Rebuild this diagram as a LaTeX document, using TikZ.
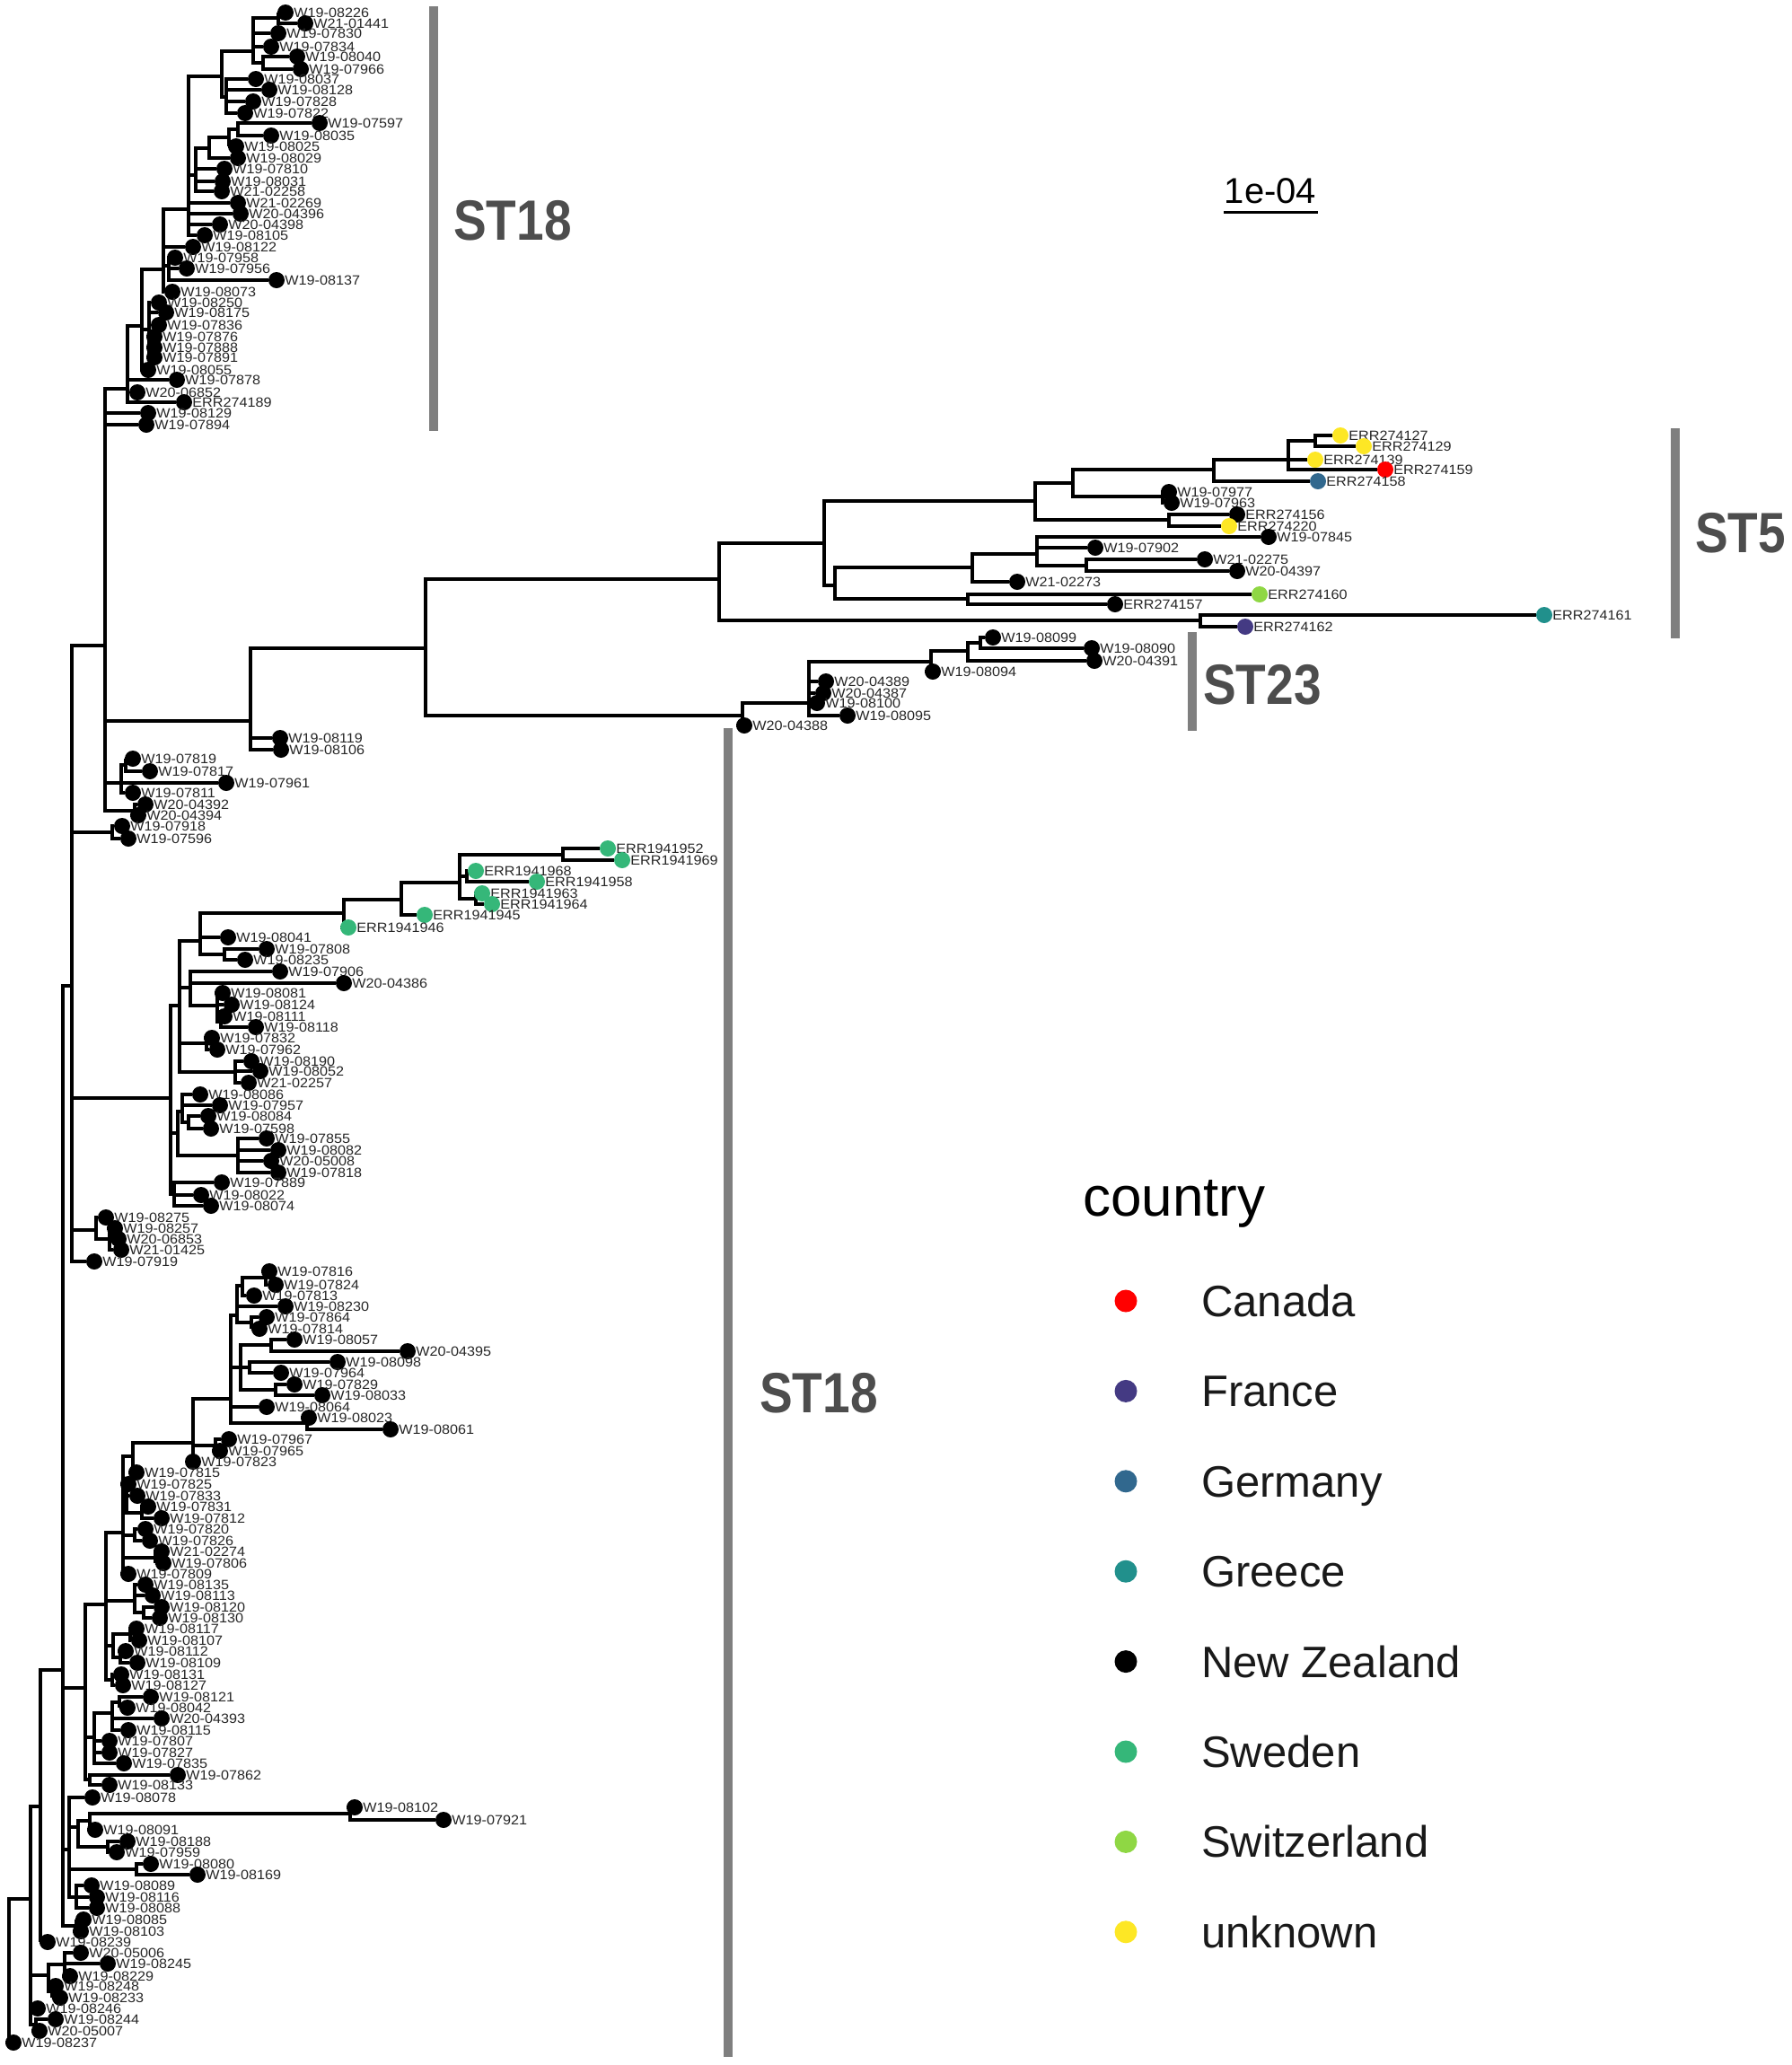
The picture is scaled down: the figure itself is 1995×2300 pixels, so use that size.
\documentclass[tikz,border=0pt]{standalone}
\usepackage{fontspec}
\setmainfont{Liberation Sans}
\newfontfamily\tipfont[FakeStretch=1.08]{Liberation Sans}
\usetikzlibrary{backgrounds}
\definecolor{ca}{HTML}{FF0000}
\definecolor{fr}{HTML}{443A83}
\definecolor{de}{HTML}{31688E}
\definecolor{gr}{HTML}{21908C}
\definecolor{nz}{HTML}{000000}
\definecolor{se}{HTML}{35B779}
\definecolor{ch}{HTML}{8FD744}
\definecolor{un}{HTML}{FDE725}
\definecolor{bargrey}{HTML}{7F7F7F}
\definecolor{stgrey}{HTML}{4D4D4D}
\tikzstyle{tip} = [circle, draw=none, inner sep=0pt, minimum size=18pt, label distance=3.5pt]
\tikzstyle{tiplab} = [inner sep=0pt, text=black!85, text height=10.5pt, text depth=0pt, font=\tipfont\fontsize{15}{15}\selectfont]
\tikzstyle{branch} = [line width=4pt, black]
\tikzstyle{stbar} = [rectangle, draw=none, fill=bargrey, minimum width=10pt, inner sep=0pt]
\tikzstyle{stlab} = [anchor=west, inner sep=0pt, text=stgrey, font=\bfseries\fontsize{55}{55}\selectfont]
\tikzstyle{scaletxt} = [inner sep=0pt, font=\fontsize{40}{40}\selectfont]
\tikzstyle{scalebar} = [rectangle, draw=none, fill=black, minimum width=105pt, minimum height=3pt, inner sep=0pt]
\tikzstyle{legtitle} = [anchor=base west, inner sep=0pt, font=\fontsize{62}{62}\selectfont]
\tikzstyle{legdot} = [circle, draw=none, inner sep=0pt, minimum size=25pt]
\tikzstyle{legtext} = [anchor=west, inner sep=0pt, text=black!90, text height=35pt, text depth=0pt, font=\fontsize{49}{49}\selectfont]
\newcommand{\stname}[1]{\scalebox{1}[1.15]{#1}}

\begin{document}
\begin{tikzpicture}[x=1pt, y=-1pt]
\useasboundingbox (0,0) rectangle (1995,2300);

\foreach \nm/\x/\y in {R/10/2195, NA/34/2115, Q3/45/2012, ND/40/2255, NC/54/2200, NC1/72/2188, NC3/58/2218,
  Q/70/1860, LW/85/2145, LS/77/2060, LV/85/2113, LR/87/2035, LRa/100/2028, LR1/390/2020, LR2/120/2057, LU/152/2082,
  LO/95/1880, LX/100/1982, LP3/105/1935, LP2/125/1908, LP1/133/1896, LH/118/1787, LN/125/1871, LM/126/1833,
  LM1/145/1820, LM2/134/1846, LL/150/1783, LL2/160/1796, LGp/137/1707, LG/148/1622, LI/141/1668, LI2/158/1685,
  LJ/150/1710, LK/173/1735, LF/215/1607, LE/240/1610, LB/257/1558, LA0/264/1465, LA1/270/1432, LA1a/296/1423,
  LA2/280/1473, LC/268/1523, LC1/302/1498, LC2/278/1523, LC3/307/1548, LD/342/1585,
  P80/80/1098, L1/107/1370, L1a/122/1380, M0/190/1223, M4/200/1120, M1/223/1048, M1b/250/1063, M2/212/1100,
  M2b/242/1120, M2c/246/1138, M3b/230/1162, M3c/262/1194, M5/198/1262, M5a/203/1238, M5c/210/1250, M5b/265/1287,
  M6/194/1330, S1/383/1017, S2/447/1002, S3/512/983, S4/627/952, S5/520/976, S6/530/1001,
  U3/125/927, P117/117/719, U1/135/872, U1a/140/852, U2/150/903,
  B/279/803, C/474/722, D/801/645, E/827/797, E1/901/783, E2/1037/737, E3/1078/725, E4/1092/716,
  F/918/605, G/1337/691, H/1153/558, I/930/652, J/1195/538, K/1302/579, L/1352/523, M/1435/512, N/1465/491,
  O/1083/632, P/1078/667, Q5/1155/617, R5/1210/630, W/1295/553,
  T0/142/433, T1/158/363, T2/182/300, T3/166/367, T4/188/296, T6/210/233, T7/247/85, T9/218/195, T8/233/165,
  T8a/255/153, T8b/265/144, n1/282/57, n1a/310/20, n1b/293/70, n2/252/108}
  \coordinate (\nm) at (\x,\y);

\foreach \nm/\x/\y/\col in {W19-08226/318/14/nz, W21-01441/340/26/nz, W19-07830/310/37/nz, W19-07834/302/52/nz,
  W19-08040/331/63/nz, W19-07966/335/77/nz, W19-08037/285/88/nz, W19-08128/300/100/nz, W19-07828/282/113/nz,
  W19-07822/273/126/nz, W19-07597/356/137/nz, W19-08035/302/151/nz, W19-08025/263/163/nz, W19-08029/265/176/nz,
  W19-07810/250/188/nz, W19-08031/248/202/nz, W21-02258/247/213/nz, W21-02269/265/226/nz, W20-04396/268/238/nz,
  W20-04398/245/250/nz, W19-08105/228/262/nz, W19-08122/215/275/nz, W19-07958/195/287/nz, W19-07956/208/299/nz,
  W19-08137/308/312/nz, W19-08073/192/325/nz, W19-08250/177/337/nz, W19-08175/185/348/nz, W19-07836/177/362/nz,
  W19-07876/172/375/nz, W19-07888/172/387/nz, W19-07891/172/398/nz, W19-08055/165/412/nz, W19-07878/197/423/nz,
  W20-06852/153/437/nz, ERR274189/205/448/nz, W19-08129/165/460/nz, W19-07894/163/473/nz}
  \node[tip, fill=\col, label={[tiplab]right:\nm}] (\nm) at (\x,\y) {};

\foreach \nm/\x/\y/\col in {ERR274127/1493/485/un, ERR274129/1519/497/un, ERR274139/1465/512/un,
  ERR274159/1543/523/ca, ERR274158/1468/536/de, W19-07977/1302/548/nz, W19-07963/1305/560/nz,
  ERR274156/1378/573/nz, ERR274220/1369/586/un, W19-07845/1413/598/nz, W19-07902/1220/610/nz,
  W21-02275/1342/623/nz, W20-04397/1378/636/nz, W21-02273/1133/648/nz, ERR274160/1403/662/ch,
  ERR274157/1242/673/nz, ERR274161/1720/685/gr, ERR274162/1387/698/fr, W19-08099/1106/710/nz,
  W19-08090/1216/722/nz, W20-04391/1219/736/nz, W19-08094/1039/748/nz, W20-04389/920/759/nz,
  W20-04387/917/772/nz, W19-08100/910/783/nz, W19-08095/944/797/nz, W20-04388/829/808/nz,
  W19-08119/312/822/nz, W19-08106/313/835/nz, W19-07819/148/845/nz, W19-07817/167/859/nz,
  W19-07961/252/872/nz, W19-07811/148/883/nz, W20-04392/162/896/nz, W20-04394/154/908/nz,
  W19-07918/136/920/nz, W19-07596/143/934/nz,
  ERR1941952/677/945/se, ERR1941969/693/958/se, ERR1941968/530/970/se, ERR1941958/598/982/se,
  ERR1941963/537/995/se, ERR1941964/548/1007/se, ERR1941945/473/1019/se, ERR1941946/388/1033/se}
  \node[tip, fill=\col, label={[tiplab]right:\nm}] (\nm) at (\x,\y) {};

\foreach \nm/\x/\y in {W19-08041/254/1044, W19-07808/297/1057, W19-08235/273/1069, W19-07906/312/1082,
  W20-04386/383/1095, W19-08081/248/1106, W19-08124/258/1119, W19-08111/250/1132, W19-08118/285/1144,
  W19-07832/236/1156, W19-07962/242/1169, W19-08190/280/1182, W19-08052/290/1193, W21-02257/277/1206,
  W19-08086/223/1219, W19-07957/245/1231, W19-08084/232/1243, W19-07598/235/1257, W19-07855/297/1268,
  W19-08082/310/1281, W20-05008/302/1293, W19-07818/310/1306, W19-07889/247/1317, W19-08022/224/1331,
  W19-08074/235/1343, W19-08275/118/1356, W19-08257/128/1368, W20-06853/132/1380, W21-01425/135/1392,
  W19-07919/105/1405, W19-07816/300/1416, W19-07824/307/1431, W19-07813/283/1443, W19-08230/318/1455,
  W19-07864/297/1467, W19-07814/289/1480, W19-08057/328/1492, W20-04395/454/1505, W19-08098/376/1517,
  W19-07964/313/1529, W19-07829/328/1542, W19-08033/359/1554, W19-08064/297/1567, W19-08023/344/1579,
  W19-08061/435/1592, W19-07967/255/1603, W19-07965/245/1616, W19-07823/215/1628, W19-07815/152/1640,
  W19-07825/143/1653, W19-07833/153/1666, W19-07831/165/1678, W19-07812/180/1691, W19-07820/162/1703,
  W19-07826/167/1716, W21-02274/180/1728, W19-07806/182/1741, W19-07809/143/1753, W19-08135/162/1765,
  W19-08113/170/1777, W19-08120/180/1790, W19-08130/178/1802, W19-08117/152/1814, W19-08107/155/1827,
  W19-08112/140/1839, W19-08109/153/1852, W19-08131/135/1865, W19-08127/137/1877, W19-08121/168/1890,
  W19-08042/142/1902, W20-04393/180/1914, W19-08115/143/1927, W19-07807/122/1939, W19-07827/122/1952,
  W19-07835/138/1964, W19-07862/198/1977, W19-08133/122/1988, W19-08078/103/2002, W19-08102/395/2013,
  W19-07921/494/2027, W19-08091/106/2038, W19-08188/142/2051, W19-07959/130/2063, W19-08080/168/2076,
  W19-08169/220/2088, W19-08089/102/2100, W19-08116/108/2113, W19-08088/108/2125, W19-08085/93/2138,
  W19-08103/90/2151, W19-08239/53/2163, W20-05006/90/2175, W19-08245/120/2187, W19-08229/78/2201,
  W19-08248/62/2212, W19-08233/67/2225, W19-08246/42/2237, W19-08244/62/2249, W20-05007/44/2262,
  W19-08237/15/2275}
  \node[tip, fill=nz, label={[tiplab]right:\nm}] (\nm) at (\x,\y) {};

\begin{pgfonlayer}{background}
\foreach \a/\b in {R/NA, R/W19-08237, NA/Q3, NA/NC, NA/W19-08246, NA/ND, ND/W19-08244, ND/W20-05007,
  NC/NC1, NC/NC3, NC1/W20-05006, NC1/W19-08245, NC1/W19-08229, NC3/W19-08248, NC3/W19-08233,
  Q3/Q, Q3/W19-08239, Q/P80, Q/LO, Q/LS, Q/LW, LW/W19-08085, LW/W19-08103,
  LS/W19-08078, LS/LR, LS/LU, LS/LV, LV/W19-08089, LV/W19-08116, LV/W19-08088, LU/W19-08080, LU/W19-08169,
  LR/LRa, LR/LR2, LRa/LR1, LRa/W19-08091, LR1/W19-08102, LR1/W19-07921, LR2/W19-08188, LR2/W19-07959,
  LO/LH, LO/LP3, LO/LX, LX/W19-07862, LX/W19-08133,
  LP3/LP2, LP3/W19-07807, LP3/W19-07827, LP3/W19-07835, LP2/LP1, LP2/W20-04393, LP2/W19-08115,
  LP1/W19-08121, LP1/W19-08042, LH/LGp, LH/LL, LH/LM, LH/LN, LN/W19-08131, LN/W19-08127,
  LM/LM1, LM/LM2, LM1/W19-08117, LM1/W19-08107, LM2/W19-08112, LM2/W19-08109,
  LL/W19-08135, LL/W19-08113, LL/LL2, LL2/W19-08120, LL2/W19-08130,
  LGp/LG, LGp/LI, LGp/LJ, LGp/LK, LGp/W19-07809, LI/W19-07825, LI/W19-07833, LI/LI2,
  LI2/W19-07831, LI2/W19-07812, LJ/W19-07820, LJ/W19-07826, LK/W21-02274, LK/W19-07806,
  LG/LF, LG/W19-07815, LF/LB, LF/LE, LF/W19-07823, LE/W19-07967, LE/W19-07965,
  LB/LA0, LB/LC, LB/W19-08064, LB/LD, LD/W19-08023, LD/W19-08061,
  LA0/LA1, LA0/W19-08230, LA0/LA2, LA1/LA1a, LA1/W19-07813, LA1a/W19-07816, LA1a/W19-07824,
  LA2/W19-07864, LA2/W19-07814, LC/LC1, LC/LC2, LC/LC3, LC1/W19-08057, LC1/W20-04395,
  LC2/W19-08098, LC2/W19-07964, LC3/W19-07829, LC3/W19-08033,
  P80/P117, P80/U3, P80/M0, P80/L1, P80/W19-07919, L1/W19-08275, L1/L1a,
  L1a/W19-08257, L1a/W20-06853, L1a/W21-01425, U3/W19-07918, U3/W19-07596,
  M0/M4, M0/M5, M0/M6, M4/M1, M4/M2, M4/M3b, M4/M3c, M1/S1, M1/W19-08041, M1/M1b,
  M1b/W19-07808, M1b/W19-08235, M2/W19-07906, M2/W20-04386, M2/M2b,
  M2b/W19-08081, M2b/W19-08124, M2b/M2c, M2c/W19-08111, M2c/W19-08118,
  M3b/W19-07832, M3b/W19-07962, M3c/W19-08190, M3c/W19-08052, M3c/W21-02257,
  M5/M5a, M5/M5b, M5a/W19-08086, M5a/W19-07957, M5a/M5c, M5c/W19-08084, M5c/W19-07598,
  M5b/W19-07855, M5b/W19-08082, M5b/W20-05008, M5b/W19-07818,
  M6/W19-07889, M6/W19-08022, M6/W19-08074,
  S1/S2, S1/ERR1941946, S2/S3, S2/ERR1941945, S3/S4, S3/S5, S3/S6,
  S4/ERR1941952, S4/ERR1941969, S5/ERR1941968, S5/ERR1941958, S6/ERR1941963, S6/ERR1941964,
  P117/T0, P117/W19-08129, P117/W19-07894, P117/B, P117/U1, P117/U2,
  U1/U1a, U1/W19-07961, U1/W19-07811, U1a/W19-07819, U1a/W19-07817, U2/W20-04392, U2/W20-04394,
  B/C, B/W19-08119, B/W19-08106, C/D, C/E, D/F, D/G, G/ERR274161, G/ERR274162,
  F/H, F/I, H/J, H/K, J/L, J/W, W/W19-07977, W/W19-07963, L/M, L/ERR274158,
  M/N, M/ERR274139, M/ERR274159, N/ERR274127, N/ERR274129, K/ERR274156, K/ERR274220,
  I/O, I/P, O/Q5, O/W21-02273, Q5/W19-07845, Q5/W19-07902, Q5/R5, R5/W21-02275, R5/W20-04397,
  P/ERR274160, P/ERR274157, E/E1, E/W20-04388,
  E1/E2, E1/W20-04389, E1/W20-04387, E1/W19-08100, E1/W19-08095, E2/E3, E2/W19-08094,
  E3/E4, E3/W20-04391, E4/W19-08099, E4/W19-08090,
  T0/T1, T0/W19-07878, T0/W20-06852, T0/ERR274189, T1/T2, T1/T3, T1/W19-08055,
  T3/W19-08250, T3/W19-08175, T3/W19-07836, T3/W19-07876, T3/W19-07888, T3/W19-07891,
  T2/T6, T2/W19-08122, T2/T4, T2/W19-08073, T4/W19-07958, T4/W19-07956, T4/W19-08137,
  T6/T7, T6/T9, T6/W21-02269, T6/W20-04396, T6/W20-04398, T6/W19-08105,
  T9/T8, T9/W19-07810, T9/W19-08031, T9/W21-02258, T8/T8a, T8/W19-08029,
  T8a/T8b, T8a/W19-08025, T8b/W19-07597, T8b/W19-08035, T7/n1, T7/n2,
  n1/n1a, n1/W19-07830, n1/W19-07834, n1/n1b, n1a/W19-08226, n1a/W21-01441,
  n1b/W19-08040, n1b/W19-07966, n2/W19-08037, n2/W19-08128, n2/W19-07828, n2/W19-07822}
  \draw[branch] (\a) |- (\b);
\end{pgfonlayer}

\node[stbar, minimum height=473pt] (bar18a) at (483,243.5) {};
\node[stbar, minimum height=234pt] (bar5) at (1866,594) {};
\node[stbar, minimum height=110pt] (bar23) at (1328,759) {};
\node[stbar, minimum height=1480pt] (bar18b) at (811,1551) {};
\node[stlab] (lab18a) at (505,246) {\stname{ST18}};
\node[stlab] (lab5) at (1888,594) {\stname{ST5}};
\node[stlab] (lab23) at (1340,763) {\stname{ST23}};
\node[stlab] (lab18b) at (846,1552) {\stname{ST18}};

\node[scaletxt] (scalelab) at (1415,213) {1e-04};
\node[scalebar] (scalebar) at (1415,236) {};

\node[legtitle] (legtitle) at (1206,1354) {country};
\foreach \col/\nm [count=\i from 0] in {ca/Canada, fr/France, de/Germany, gr/Greece, nz/New Zealand,
  se/Sweden, ch/Switzerland, un/unknown}
{
  \node[legdot, fill=\col] (leg\col) at (1254,{1449+100.4*\i}) {};
  \node[legtext] (legt\col) at (1338,{1449+100.4*\i}) {\nm};
}
\end{tikzpicture}
\end{document}
